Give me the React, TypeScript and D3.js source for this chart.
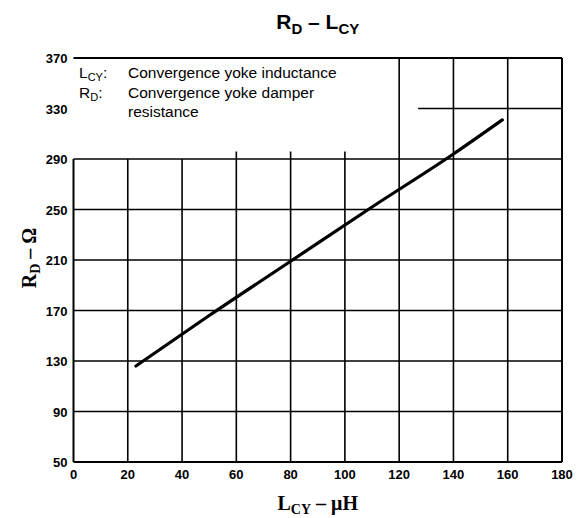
import React from 'react';
import * as d3 from 'd3';

// (L_CY in µH, R_D in ohm)
const lcy = [23, 50, 80, 110, 140, 158];
const rd = [126, 166, 209, 252, 294, 321];

const xTicks = [0, 20, 40, 60, 80, 100, 120, 140, 160, 180];
const yTicks = [50, 90, 130, 170, 210, 250, 290, 330, 370];

const W = 580;
const H = 518;
const left = 73.5;
const right = 562;
const top = 58;
const bottom = 462;

const sans = '"Liberation Sans", Arial, sans-serif';
const serif = '"Liberation Serif", "Times New Roman", serif';

// where the legend box hides the upper grid
const gridTop = (v: number) => {
  if (v >= 120) return 370;
  if (v >= 60) return 296;
  return 290;
};
const gridLeft = (v: number) => (v === 330 ? 127 : 0);

const App = () => {
  const x = d3.scaleLinear().domain([0, 180]).range([left, right]);
  const y = d3.scaleLinear().domain([50, 370]).range([bottom, top]);

  const pts = lcy.map((v, i) => [v, rd[i]] as [number, number]);
  const line = d3.line<[number, number]>()
    .x(d => x(d[0]))
    .y(d => y(d[1]))
    .curve(d3.curveMonotoneX);

  const cx = (left + right) / 2;

  return (
    <svg width={W} height={H} style={{ position: 'absolute', left: 0, top: 0, background: '#fff' }}>
      {/* title */}
      <text x={cx} y={29} textAnchor="middle" fontFamily={sans} fontWeight="bold" fontSize={21}>
        R<tspan dy={5} fontSize={15}>D</tspan>
        <tspan dy={-5}> – L</tspan>
        <tspan dy={5} fontSize={15}>CY</tspan>
      </text>

      {/* vertical grid */}
      {xTicks.map(v => (
        <line key={'vx' + v} x1={x(v)} x2={x(v)} y1={y(gridTop(v))} y2={bottom}
          stroke="#000" strokeWidth={v === 0 || v === 180 ? 2 : 1.6} />
      ))}
      {/* horizontal grid */}
      {yTicks.map(v => (
        <line key={'hy' + v} x1={x(gridLeft(v))} x2={right} y1={y(v)} y2={y(v)}
          stroke="#000" strokeWidth={v === 50 || v === 370 ? 2 : 1.6} />
      ))}

      {/* curve */}
      <path d={line(pts) || ''} fill="none" stroke="#000" strokeWidth={3.2} strokeLinecap="round" />

      {/* tick labels */}
      {yTicks.map(v => (
        <text key={'ty' + v} x={left - 6} y={y(v) + 5} textAnchor="end"
          fontFamily={sans} fontWeight="bold" fontSize={13}>{v}</text>
      ))}
      {xTicks.map(v => (
        <text key={'tx' + v} x={x(v)} y={bottom + 17} textAnchor="middle"
          fontFamily={sans} fontWeight="bold" fontSize={13}>{v}</text>
      ))}

      {/* legend */}
      <g fontFamily={sans} fontSize={15.5}>
        <text x={79} y={78}>
          L<tspan dy={2.5} fontSize={11}>CY</tspan><tspan dy={-2.5}>:</tspan>
        </text>
        <text x={128} y={78}>Convergence yoke inductance</text>
        <text x={79} y={98}>
          R<tspan dy={2.5} fontSize={11}>D</tspan><tspan dy={-2.5}>:</tspan>
        </text>
        <text x={128} y={98}>Convergence yoke damper</text>
        <text x={128} y={117}>resistance</text>
      </g>

      {/* axis titles */}
      <text x={cx} y={510} textAnchor="middle" fontFamily={serif} fontWeight="bold" fontSize={20}>
        L<tspan dy={4} fontSize={14}>CY</tspan><tspan dy={-4}> – μH</tspan>
      </text>
      <text transform={`translate(36, 258) rotate(-90)`} textAnchor="middle"
        fontFamily={serif} fontWeight="bold" fontSize={20}>
        R<tspan dy={4} fontSize={14}>D</tspan><tspan dy={-4}> – Ω</tspan>
      </text>
    </svg>
  );
};

export default App;
